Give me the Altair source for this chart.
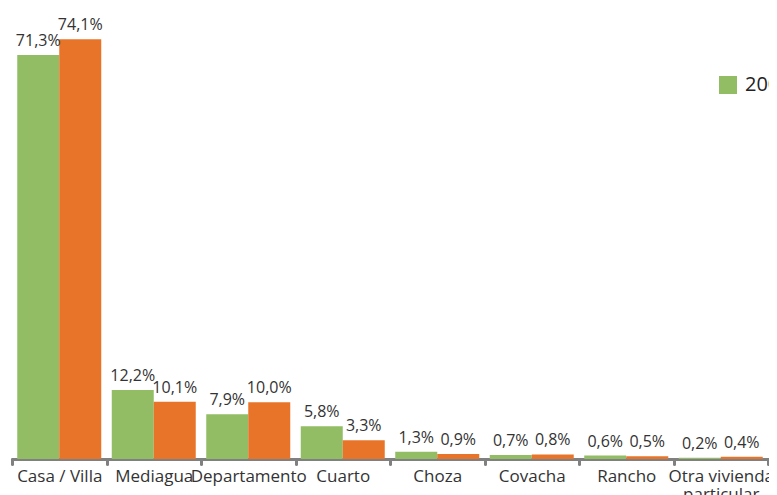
import altair as alt
import pandas as pd

categories = ["Casa / Villa", "Mediagua", "Departamento", "Cuarto", "Choza",
              "Covacha", "Rancho", "Otra vivienda particular"]
years = ["2001", "2010"]
values_2001 = [71.3, 12.2, 7.9, 5.8, 1.3, 0.7, 0.6, 0.2]
values_2010 = [74.1, 10.1, 10.0, 3.3, 0.9, 0.8, 0.5, 0.4]
colors = ["#92bd64", "#e8742a"]

rows = []
for cat, a, b in zip(categories, values_2001, values_2010):
    for yr, v in zip(years, (a, b)):
        rows.append({"tipo": cat, "anio": yr, "valor": v,
                     "etiqueta": f"{v:.1f}%".replace(".", ",")})
df = pd.DataFrame(rows)

FONT = "Open Sans"

x = alt.X("tipo:N", sort=categories, title=None,
          scale=alt.Scale(paddingInner=0, paddingOuter=0),
          axis=alt.Axis(tickBand="extent", domainColor="#808080", domainWidth=3,
                        domainCap="round", tickColor="#808080", tickWidth=3,
                        tickCap="round", tickSize=5, labelPadding=4.5,
                        labelFont=FONT, labelFontSize=17, labelColor="#333333",
                        labelAngle=0, labelLineHeight=18,
                        labelExpr="datum.label == 'Otra vivienda particular' ? ['Otra vivienda', 'particular'] : datum.label"))
xoff = alt.XOffset("anio:N", sort=years,
                   scale=alt.Scale(paddingOuter=0.125, paddingInner=0))
y = alt.Y("valor:Q", title=None,
          scale=alt.Scale(domain=[0, 79.6], nice=False, zero=True),
          axis=None)

bars = alt.Chart(df).mark_bar().encode(
    x=x, xOffset=xoff, y=y,
    color=alt.Color("anio:N", sort=years,
                    scale=alt.Scale(domain=years, range=colors),
                    legend=alt.Legend(title=None, orient="none", legendX=706, legendY=67,
                                      direction="horizontal", columns=2,
                                      symbolType="square", symbolSize=324,
                                      symbolStrokeWidth=0, labelFont=FONT,
                                      labelFontSize=20, labelColor="#222222",
                                      labelOffset=7, padding=0, columnPadding=30)),
)

labels = alt.Chart(df).mark_text(font=FONT, fontSize=16, color="#333333",
                                 baseline="alphabetic", dy=-9).encode(
    x=x, xOffset=xoff, y=y, text="etiqueta:N",
)

chart = alt.layer(bars, labels).properties(
    width=756, height=451,
    autosize=alt.AutoSizeParams(type="none"),
    padding={"left": 4, "top": 0, "right": 1, "bottom": 36},
    background="white",
).configure_view(strokeWidth=0, stroke="transparent")

chart.save("out.html", embed_options={"renderer": "svg", "actions": False})
